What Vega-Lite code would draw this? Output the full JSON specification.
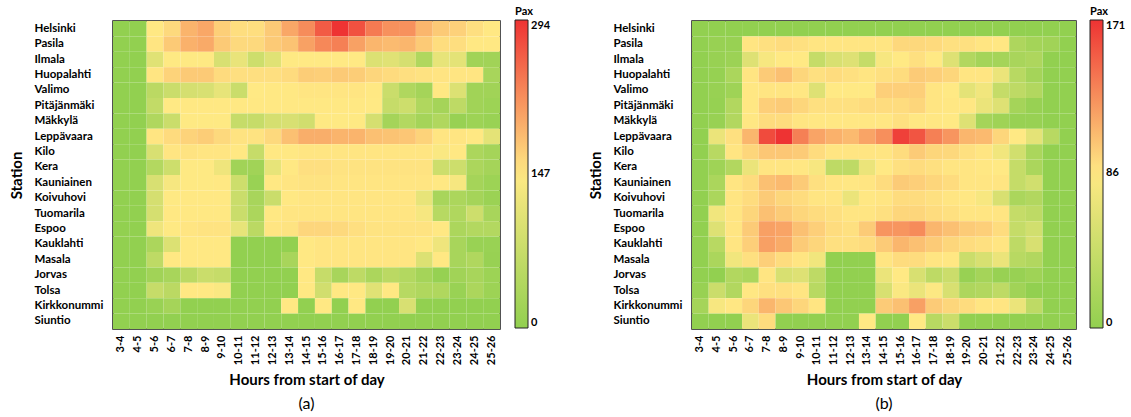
{
"$schema": "https://vega.github.io/schema/vega-lite/v6.json",
"padding": {"left": 8, "top": 5, "right": 5, "bottom": 0},
"config": {
  "font": "Lato",
  "view": {"stroke": "#1a1a1a", "strokeWidth": 1.5},
  "axis": {"labelFontWeight": "bold", "labelColor": "#000", "labelFontSize": 11, "titleFontWeight": "bold", "titleColor": "#000", "titleFontSize": 15, "ticks": false, "domain": false, "grid": false},
  "legend": {"titleFontWeight": "bold", "titleFontSize": 11, "titleColor": "#000", "labelFontWeight": "bold", "labelFontSize": 11, "labelColor": "#000", "gradientStrokeColor": "#222", "gradientStrokeWidth": 1},
  "title": {"fontWeight": "normal", "fontSize": 16, "color": "#000"}
},
"spacing": 35,
"resolve": {"scale": {"color": "independent"}, "legend": {"color": "independent"}},
"datasets": {
"a": [
{"s":"Helsinki","h":"3-4","v":0},{"s":"Helsinki","h":"4-5","v":0},{"s":"Helsinki","h":"5-6","v":148},{"s":"Helsinki","h":"6-7","v":160},{"s":"Helsinki","h":"7-8","v":190},{"s":"Helsinki","h":"8-9","v":200},{"s":"Helsinki","h":"9-10","v":168},{"s":"Helsinki","h":"10-11","v":156},{"s":"Helsinki","h":"11-12","v":156},{"s":"Helsinki","h":"12-13","v":172},{"s":"Helsinki","h":"13-14","v":200},{"s":"Helsinki","h":"14-15","v":222},{"s":"Helsinki","h":"15-16","v":262},{"s":"Helsinki","h":"16-17","v":294},{"s":"Helsinki","h":"17-18","v":270},{"s":"Helsinki","h":"18-19","v":237},{"s":"Helsinki","h":"19-20","v":218},{"s":"Helsinki","h":"20-21","v":218},{"s":"Helsinki","h":"21-22","v":188},{"s":"Helsinki","h":"22-23","v":172},{"s":"Helsinki","h":"23-24","v":166},{"s":"Helsinki","h":"24-25","v":155},{"s":"Helsinki","h":"25-26","v":148},
{"s":"Pasila","h":"3-4","v":0},{"s":"Pasila","h":"4-5","v":0},{"s":"Pasila","h":"5-6","v":150},{"s":"Pasila","h":"6-7","v":172},{"s":"Pasila","h":"7-8","v":192},{"s":"Pasila","h":"8-9","v":198},{"s":"Pasila","h":"9-10","v":172},{"s":"Pasila","h":"10-11","v":160},{"s":"Pasila","h":"11-12","v":160},{"s":"Pasila","h":"12-13","v":172},{"s":"Pasila","h":"13-14","v":178},{"s":"Pasila","h":"14-15","v":205},{"s":"Pasila","h":"15-16","v":225},{"s":"Pasila","h":"16-17","v":232},{"s":"Pasila","h":"17-18","v":205},{"s":"Pasila","h":"18-19","v":188},{"s":"Pasila","h":"19-20","v":184},{"s":"Pasila","h":"20-21","v":188},{"s":"Pasila","h":"21-22","v":172},{"s":"Pasila","h":"22-23","v":157},{"s":"Pasila","h":"23-24","v":156},{"s":"Pasila","h":"24-25","v":148},{"s":"Pasila","h":"25-26","v":148},
{"s":"Ilmala","h":"3-4","v":0},{"s":"Ilmala","h":"4-5","v":0},{"s":"Ilmala","h":"5-6","v":105},{"s":"Ilmala","h":"6-7","v":145},{"s":"Ilmala","h":"7-8","v":145},{"s":"Ilmala","h":"8-9","v":145},{"s":"Ilmala","h":"9-10","v":95},{"s":"Ilmala","h":"10-11","v":118},{"s":"Ilmala","h":"11-12","v":80},{"s":"Ilmala","h":"12-13","v":105},{"s":"Ilmala","h":"13-14","v":145},{"s":"Ilmala","h":"14-15","v":147},{"s":"Ilmala","h":"15-16","v":147},{"s":"Ilmala","h":"16-17","v":147},{"s":"Ilmala","h":"17-18","v":147},{"s":"Ilmala","h":"18-19","v":100},{"s":"Ilmala","h":"19-20","v":105},{"s":"Ilmala","h":"20-21","v":90},{"s":"Ilmala","h":"21-22","v":40},{"s":"Ilmala","h":"22-23","v":115},{"s":"Ilmala","h":"23-24","v":110},{"s":"Ilmala","h":"24-25","v":20},{"s":"Ilmala","h":"25-26","v":20},
{"s":"Huopalahti","h":"3-4","v":0},{"s":"Huopalahti","h":"4-5","v":0},{"s":"Huopalahti","h":"5-6","v":150},{"s":"Huopalahti","h":"6-7","v":165},{"s":"Huopalahti","h":"7-8","v":172},{"s":"Huopalahti","h":"8-9","v":172},{"s":"Huopalahti","h":"9-10","v":158},{"s":"Huopalahti","h":"10-11","v":155},{"s":"Huopalahti","h":"11-12","v":155},{"s":"Huopalahti","h":"12-13","v":155},{"s":"Huopalahti","h":"13-14","v":158},{"s":"Huopalahti","h":"14-15","v":170},{"s":"Huopalahti","h":"15-16","v":168},{"s":"Huopalahti","h":"16-17","v":172},{"s":"Huopalahti","h":"17-18","v":170},{"s":"Huopalahti","h":"18-19","v":162},{"s":"Huopalahti","h":"19-20","v":158},{"s":"Huopalahti","h":"20-21","v":155},{"s":"Huopalahti","h":"21-22","v":153},{"s":"Huopalahti","h":"22-23","v":151},{"s":"Huopalahti","h":"23-24","v":150},{"s":"Huopalahti","h":"24-25","v":150},{"s":"Huopalahti","h":"25-26","v":30},
{"s":"Valimo","h":"3-4","v":0},{"s":"Valimo","h":"4-5","v":0},{"s":"Valimo","h":"5-6","v":55},{"s":"Valimo","h":"6-7","v":75},{"s":"Valimo","h":"7-8","v":90},{"s":"Valimo","h":"8-9","v":95},{"s":"Valimo","h":"9-10","v":115},{"s":"Valimo","h":"10-11","v":75},{"s":"Valimo","h":"11-12","v":147},{"s":"Valimo","h":"12-13","v":148},{"s":"Valimo","h":"13-14","v":148},{"s":"Valimo","h":"14-15","v":150},{"s":"Valimo","h":"15-16","v":150},{"s":"Valimo","h":"16-17","v":150},{"s":"Valimo","h":"17-18","v":150},{"s":"Valimo","h":"18-19","v":148},{"s":"Valimo","h":"19-20","v":75},{"s":"Valimo","h":"20-21","v":40},{"s":"Valimo","h":"21-22","v":25},{"s":"Valimo","h":"22-23","v":148},{"s":"Valimo","h":"23-24","v":100},{"s":"Valimo","h":"24-25","v":20},{"s":"Valimo","h":"25-26","v":20},
{"s":"Pitäjänmäki","h":"3-4","v":0},{"s":"Pitäjänmäki","h":"4-5","v":0},{"s":"Pitäjänmäki","h":"5-6","v":65},{"s":"Pitäjänmäki","h":"6-7","v":147},{"s":"Pitäjänmäki","h":"7-8","v":148},{"s":"Pitäjänmäki","h":"8-9","v":148},{"s":"Pitäjänmäki","h":"9-10","v":148},{"s":"Pitäjänmäki","h":"10-11","v":148},{"s":"Pitäjänmäki","h":"11-12","v":148},{"s":"Pitäjänmäki","h":"12-13","v":148},{"s":"Pitäjänmäki","h":"13-14","v":148},{"s":"Pitäjänmäki","h":"14-15","v":148},{"s":"Pitäjänmäki","h":"15-16","v":148},{"s":"Pitäjänmäki","h":"16-17","v":148},{"s":"Pitäjänmäki","h":"17-18","v":148},{"s":"Pitäjänmäki","h":"18-19","v":147},{"s":"Pitäjänmäki","h":"19-20","v":70},{"s":"Pitäjänmäki","h":"20-21","v":80},{"s":"Pitäjänmäki","h":"21-22","v":40},{"s":"Pitäjänmäki","h":"22-23","v":25},{"s":"Pitäjänmäki","h":"23-24","v":60},{"s":"Pitäjänmäki","h":"24-25","v":20},{"s":"Pitäjänmäki","h":"25-26","v":15},
{"s":"Mäkkylä","h":"3-4","v":0},{"s":"Mäkkylä","h":"4-5","v":0},{"s":"Mäkkylä","h":"5-6","v":40},{"s":"Mäkkylä","h":"6-7","v":75},{"s":"Mäkkylä","h":"7-8","v":145},{"s":"Mäkkylä","h":"8-9","v":145},{"s":"Mäkkylä","h":"9-10","v":145},{"s":"Mäkkylä","h":"10-11","v":70},{"s":"Mäkkylä","h":"11-12","v":70},{"s":"Mäkkylä","h":"12-13","v":90},{"s":"Mäkkylä","h":"13-14","v":95},{"s":"Mäkkylä","h":"14-15","v":85},{"s":"Mäkkylä","h":"15-16","v":145},{"s":"Mäkkylä","h":"16-17","v":145},{"s":"Mäkkylä","h":"17-18","v":145},{"s":"Mäkkylä","h":"18-19","v":90},{"s":"Mäkkylä","h":"19-20","v":25},{"s":"Mäkkylä","h":"20-21","v":45},{"s":"Mäkkylä","h":"21-22","v":25},{"s":"Mäkkylä","h":"22-23","v":40},{"s":"Mäkkylä","h":"23-24","v":8},{"s":"Mäkkylä","h":"24-25","v":15},{"s":"Mäkkylä","h":"25-26","v":10},
{"s":"Leppävaara","h":"3-4","v":0},{"s":"Leppävaara","h":"4-5","v":0},{"s":"Leppävaara","h":"5-6","v":150},{"s":"Leppävaara","h":"6-7","v":158},{"s":"Leppävaara","h":"7-8","v":165},{"s":"Leppävaara","h":"8-9","v":170},{"s":"Leppävaara","h":"9-10","v":160},{"s":"Leppävaara","h":"10-11","v":152},{"s":"Leppävaara","h":"11-12","v":152},{"s":"Leppävaara","h":"12-13","v":160},{"s":"Leppävaara","h":"13-14","v":180},{"s":"Leppävaara","h":"14-15","v":195},{"s":"Leppävaara","h":"15-16","v":195},{"s":"Leppävaara","h":"16-17","v":190},{"s":"Leppävaara","h":"17-18","v":190},{"s":"Leppävaara","h":"18-19","v":180},{"s":"Leppävaara","h":"19-20","v":178},{"s":"Leppävaara","h":"20-21","v":175},{"s":"Leppävaara","h":"21-22","v":165},{"s":"Leppävaara","h":"22-23","v":150},{"s":"Leppävaara","h":"23-24","v":150},{"s":"Leppävaara","h":"24-25","v":148},{"s":"Leppävaara","h":"25-26","v":110},
{"s":"Kilo","h":"3-4","v":0},{"s":"Kilo","h":"4-5","v":0},{"s":"Kilo","h":"5-6","v":95},{"s":"Kilo","h":"6-7","v":150},{"s":"Kilo","h":"7-8","v":152},{"s":"Kilo","h":"8-9","v":150},{"s":"Kilo","h":"9-10","v":150},{"s":"Kilo","h":"10-11","v":148},{"s":"Kilo","h":"11-12","v":70},{"s":"Kilo","h":"12-13","v":148},{"s":"Kilo","h":"13-14","v":148},{"s":"Kilo","h":"14-15","v":150},{"s":"Kilo","h":"15-16","v":150},{"s":"Kilo","h":"16-17","v":150},{"s":"Kilo","h":"17-18","v":150},{"s":"Kilo","h":"18-19","v":150},{"s":"Kilo","h":"19-20","v":150},{"s":"Kilo","h":"20-21","v":150},{"s":"Kilo","h":"21-22","v":150},{"s":"Kilo","h":"22-23","v":140},{"s":"Kilo","h":"23-24","v":148},{"s":"Kilo","h":"24-25","v":35},{"s":"Kilo","h":"25-26","v":25},
{"s":"Kera","h":"3-4","v":0},{"s":"Kera","h":"4-5","v":0},{"s":"Kera","h":"5-6","v":45},{"s":"Kera","h":"6-7","v":80},{"s":"Kera","h":"7-8","v":145},{"s":"Kera","h":"8-9","v":145},{"s":"Kera","h":"9-10","v":125},{"s":"Kera","h":"10-11","v":20},{"s":"Kera","h":"11-12","v":20},{"s":"Kera","h":"12-13","v":115},{"s":"Kera","h":"13-14","v":148},{"s":"Kera","h":"14-15","v":155},{"s":"Kera","h":"15-16","v":155},{"s":"Kera","h":"16-17","v":152},{"s":"Kera","h":"17-18","v":152},{"s":"Kera","h":"18-19","v":152},{"s":"Kera","h":"19-20","v":152},{"s":"Kera","h":"20-21","v":152},{"s":"Kera","h":"21-22","v":152},{"s":"Kera","h":"22-23","v":80},{"s":"Kera","h":"23-24","v":80},{"s":"Kera","h":"24-25","v":35},{"s":"Kera","h":"25-26","v":25},
{"s":"Kauniainen","h":"3-4","v":0},{"s":"Kauniainen","h":"4-5","v":0},{"s":"Kauniainen","h":"5-6","v":95},{"s":"Kauniainen","h":"6-7","v":135},{"s":"Kauniainen","h":"7-8","v":145},{"s":"Kauniainen","h":"8-9","v":145},{"s":"Kauniainen","h":"9-10","v":148},{"s":"Kauniainen","h":"10-11","v":80},{"s":"Kauniainen","h":"11-12","v":10},{"s":"Kauniainen","h":"12-13","v":148},{"s":"Kauniainen","h":"13-14","v":150},{"s":"Kauniainen","h":"14-15","v":152},{"s":"Kauniainen","h":"15-16","v":152},{"s":"Kauniainen","h":"16-17","v":150},{"s":"Kauniainen","h":"17-18","v":150},{"s":"Kauniainen","h":"18-19","v":150},{"s":"Kauniainen","h":"19-20","v":150},{"s":"Kauniainen","h":"20-21","v":150},{"s":"Kauniainen","h":"21-22","v":150},{"s":"Kauniainen","h":"22-23","v":148},{"s":"Kauniainen","h":"23-24","v":135},{"s":"Kauniainen","h":"24-25","v":25},{"s":"Kauniainen","h":"25-26","v":15},
{"s":"Koivuhovi","h":"3-4","v":0},{"s":"Koivuhovi","h":"4-5","v":0},{"s":"Koivuhovi","h":"5-6","v":90},{"s":"Koivuhovi","h":"6-7","v":145},{"s":"Koivuhovi","h":"7-8","v":148},{"s":"Koivuhovi","h":"8-9","v":148},{"s":"Koivuhovi","h":"9-10","v":148},{"s":"Koivuhovi","h":"10-11","v":75},{"s":"Koivuhovi","h":"11-12","v":30},{"s":"Koivuhovi","h":"12-13","v":75},{"s":"Koivuhovi","h":"13-14","v":148},{"s":"Koivuhovi","h":"14-15","v":150},{"s":"Koivuhovi","h":"15-16","v":150},{"s":"Koivuhovi","h":"16-17","v":150},{"s":"Koivuhovi","h":"17-18","v":150},{"s":"Koivuhovi","h":"18-19","v":150},{"s":"Koivuhovi","h":"19-20","v":150},{"s":"Koivuhovi","h":"20-21","v":150},{"s":"Koivuhovi","h":"21-22","v":115},{"s":"Koivuhovi","h":"22-23","v":30},{"s":"Koivuhovi","h":"23-24","v":35},{"s":"Koivuhovi","h":"24-25","v":25},{"s":"Koivuhovi","h":"25-26","v":12},
{"s":"Tuomarila","h":"3-4","v":0},{"s":"Tuomarila","h":"4-5","v":0},{"s":"Tuomarila","h":"5-6","v":90},{"s":"Tuomarila","h":"6-7","v":148},{"s":"Tuomarila","h":"7-8","v":148},{"s":"Tuomarila","h":"8-9","v":148},{"s":"Tuomarila","h":"9-10","v":148},{"s":"Tuomarila","h":"10-11","v":75},{"s":"Tuomarila","h":"11-12","v":35},{"s":"Tuomarila","h":"12-13","v":148},{"s":"Tuomarila","h":"13-14","v":150},{"s":"Tuomarila","h":"14-15","v":150},{"s":"Tuomarila","h":"15-16","v":150},{"s":"Tuomarila","h":"16-17","v":150},{"s":"Tuomarila","h":"17-18","v":150},{"s":"Tuomarila","h":"18-19","v":150},{"s":"Tuomarila","h":"19-20","v":150},{"s":"Tuomarila","h":"20-21","v":150},{"s":"Tuomarila","h":"21-22","v":135},{"s":"Tuomarila","h":"22-23","v":50},{"s":"Tuomarila","h":"23-24","v":40},{"s":"Tuomarila","h":"24-25","v":80},{"s":"Tuomarila","h":"25-26","v":30},
{"s":"Espoo","h":"3-4","v":0},{"s":"Espoo","h":"4-5","v":0},{"s":"Espoo","h":"5-6","v":125},{"s":"Espoo","h":"6-7","v":145},{"s":"Espoo","h":"7-8","v":150},{"s":"Espoo","h":"8-9","v":152},{"s":"Espoo","h":"9-10","v":152},{"s":"Espoo","h":"10-11","v":115},{"s":"Espoo","h":"11-12","v":55},{"s":"Espoo","h":"12-13","v":150},{"s":"Espoo","h":"13-14","v":152},{"s":"Espoo","h":"14-15","v":162},{"s":"Espoo","h":"15-16","v":162},{"s":"Espoo","h":"16-17","v":160},{"s":"Espoo","h":"17-18","v":155},{"s":"Espoo","h":"18-19","v":152},{"s":"Espoo","h":"19-20","v":152},{"s":"Espoo","h":"20-21","v":152},{"s":"Espoo","h":"21-22","v":152},{"s":"Espoo","h":"22-23","v":148},{"s":"Espoo","h":"23-24","v":35},{"s":"Espoo","h":"24-25","v":45},{"s":"Espoo","h":"25-26","v":45},
{"s":"Kauklahti","h":"3-4","v":0},{"s":"Kauklahti","h":"4-5","v":0},{"s":"Kauklahti","h":"5-6","v":35},{"s":"Kauklahti","h":"6-7","v":100},{"s":"Kauklahti","h":"7-8","v":148},{"s":"Kauklahti","h":"8-9","v":148},{"s":"Kauklahti","h":"9-10","v":148},{"s":"Kauklahti","h":"10-11","v":0},{"s":"Kauklahti","h":"11-12","v":0},{"s":"Kauklahti","h":"12-13","v":0},{"s":"Kauklahti","h":"13-14","v":0},{"s":"Kauklahti","h":"14-15","v":148},{"s":"Kauklahti","h":"15-16","v":150},{"s":"Kauklahti","h":"16-17","v":150},{"s":"Kauklahti","h":"17-18","v":150},{"s":"Kauklahti","h":"18-19","v":150},{"s":"Kauklahti","h":"19-20","v":150},{"s":"Kauklahti","h":"20-21","v":150},{"s":"Kauklahti","h":"21-22","v":148},{"s":"Kauklahti","h":"22-23","v":125},{"s":"Kauklahti","h":"23-24","v":30},{"s":"Kauklahti","h":"24-25","v":10},{"s":"Kauklahti","h":"25-26","v":10},
{"s":"Masala","h":"3-4","v":0},{"s":"Masala","h":"4-5","v":0},{"s":"Masala","h":"5-6","v":60},{"s":"Masala","h":"6-7","v":148},{"s":"Masala","h":"7-8","v":148},{"s":"Masala","h":"8-9","v":148},{"s":"Masala","h":"9-10","v":148},{"s":"Masala","h":"10-11","v":0},{"s":"Masala","h":"11-12","v":0},{"s":"Masala","h":"12-13","v":0},{"s":"Masala","h":"13-14","v":30},{"s":"Masala","h":"14-15","v":148},{"s":"Masala","h":"15-16","v":150},{"s":"Masala","h":"16-17","v":150},{"s":"Masala","h":"17-18","v":150},{"s":"Masala","h":"18-19","v":150},{"s":"Masala","h":"19-20","v":150},{"s":"Masala","h":"20-21","v":150},{"s":"Masala","h":"21-22","v":100},{"s":"Masala","h":"22-23","v":148},{"s":"Masala","h":"23-24","v":30},{"s":"Masala","h":"24-25","v":40},{"s":"Masala","h":"25-26","v":8},
{"s":"Jorvas","h":"3-4","v":0},{"s":"Jorvas","h":"4-5","v":0},{"s":"Jorvas","h":"5-6","v":20},{"s":"Jorvas","h":"6-7","v":30},{"s":"Jorvas","h":"7-8","v":55},{"s":"Jorvas","h":"8-9","v":75},{"s":"Jorvas","h":"9-10","v":70},{"s":"Jorvas","h":"10-11","v":0},{"s":"Jorvas","h":"11-12","v":0},{"s":"Jorvas","h":"12-13","v":0},{"s":"Jorvas","h":"13-14","v":0},{"s":"Jorvas","h":"14-15","v":148},{"s":"Jorvas","h":"15-16","v":70},{"s":"Jorvas","h":"16-17","v":30},{"s":"Jorvas","h":"17-18","v":60},{"s":"Jorvas","h":"18-19","v":35},{"s":"Jorvas","h":"19-20","v":55},{"s":"Jorvas","h":"20-21","v":45},{"s":"Jorvas","h":"21-22","v":25},{"s":"Jorvas","h":"22-23","v":5},{"s":"Jorvas","h":"23-24","v":20},{"s":"Jorvas","h":"24-25","v":30},{"s":"Jorvas","h":"25-26","v":15},
{"s":"Tolsa","h":"3-4","v":0},{"s":"Tolsa","h":"4-5","v":0},{"s":"Tolsa","h":"5-6","v":70},{"s":"Tolsa","h":"6-7","v":55},{"s":"Tolsa","h":"7-8","v":148},{"s":"Tolsa","h":"8-9","v":148},{"s":"Tolsa","h":"9-10","v":140},{"s":"Tolsa","h":"10-11","v":0},{"s":"Tolsa","h":"11-12","v":0},{"s":"Tolsa","h":"12-13","v":0},{"s":"Tolsa","h":"13-14","v":0},{"s":"Tolsa","h":"14-15","v":148},{"s":"Tolsa","h":"15-16","v":85},{"s":"Tolsa","h":"16-17","v":148},{"s":"Tolsa","h":"17-18","v":148},{"s":"Tolsa","h":"18-19","v":105},{"s":"Tolsa","h":"19-20","v":148},{"s":"Tolsa","h":"20-21","v":50},{"s":"Tolsa","h":"21-22","v":40},{"s":"Tolsa","h":"22-23","v":40},{"s":"Tolsa","h":"23-24","v":10},{"s":"Tolsa","h":"24-25","v":35},{"s":"Tolsa","h":"25-26","v":15},
{"s":"Kirkkonummi","h":"3-4","v":0},{"s":"Kirkkonummi","h":"4-5","v":0},{"s":"Kirkkonummi","h":"5-6","v":10},{"s":"Kirkkonummi","h":"6-7","v":25},{"s":"Kirkkonummi","h":"7-8","v":0},{"s":"Kirkkonummi","h":"8-9","v":0},{"s":"Kirkkonummi","h":"9-10","v":0},{"s":"Kirkkonummi","h":"10-11","v":0},{"s":"Kirkkonummi","h":"11-12","v":0},{"s":"Kirkkonummi","h":"12-13","v":0},{"s":"Kirkkonummi","h":"13-14","v":148},{"s":"Kirkkonummi","h":"14-15","v":0},{"s":"Kirkkonummi","h":"15-16","v":148},{"s":"Kirkkonummi","h":"16-17","v":0},{"s":"Kirkkonummi","h":"17-18","v":148},{"s":"Kirkkonummi","h":"18-19","v":0},{"s":"Kirkkonummi","h":"19-20","v":0},{"s":"Kirkkonummi","h":"20-21","v":95},{"s":"Kirkkonummi","h":"21-22","v":0},{"s":"Kirkkonummi","h":"22-23","v":0},{"s":"Kirkkonummi","h":"23-24","v":0},{"s":"Kirkkonummi","h":"24-25","v":0},{"s":"Kirkkonummi","h":"25-26","v":0},
{"s":"Siuntio","h":"3-4","v":0},{"s":"Siuntio","h":"4-5","v":0},{"s":"Siuntio","h":"5-6","v":0},{"s":"Siuntio","h":"6-7","v":0},{"s":"Siuntio","h":"7-8","v":0},{"s":"Siuntio","h":"8-9","v":0},{"s":"Siuntio","h":"9-10","v":0},{"s":"Siuntio","h":"10-11","v":0},{"s":"Siuntio","h":"11-12","v":0},{"s":"Siuntio","h":"12-13","v":0},{"s":"Siuntio","h":"13-14","v":0},{"s":"Siuntio","h":"14-15","v":0},{"s":"Siuntio","h":"15-16","v":0},{"s":"Siuntio","h":"16-17","v":0},{"s":"Siuntio","h":"17-18","v":0},{"s":"Siuntio","h":"18-19","v":0},{"s":"Siuntio","h":"19-20","v":0},{"s":"Siuntio","h":"20-21","v":0},{"s":"Siuntio","h":"21-22","v":0},{"s":"Siuntio","h":"22-23","v":0},{"s":"Siuntio","h":"23-24","v":0},{"s":"Siuntio","h":"24-25","v":0},{"s":"Siuntio","h":"25-26","v":0}
],
"b": [
{"s":"Helsinki","h":"3-4","v":0},{"s":"Helsinki","h":"4-5","v":0},{"s":"Helsinki","h":"5-6","v":0},{"s":"Helsinki","h":"6-7","v":0},{"s":"Helsinki","h":"7-8","v":0},{"s":"Helsinki","h":"8-9","v":0},{"s":"Helsinki","h":"9-10","v":0},{"s":"Helsinki","h":"10-11","v":0},{"s":"Helsinki","h":"11-12","v":0},{"s":"Helsinki","h":"12-13","v":0},{"s":"Helsinki","h":"13-14","v":0},{"s":"Helsinki","h":"14-15","v":0},{"s":"Helsinki","h":"15-16","v":0},{"s":"Helsinki","h":"16-17","v":0},{"s":"Helsinki","h":"17-18","v":0},{"s":"Helsinki","h":"18-19","v":0},{"s":"Helsinki","h":"19-20","v":0},{"s":"Helsinki","h":"20-21","v":0},{"s":"Helsinki","h":"21-22","v":0},{"s":"Helsinki","h":"22-23","v":0},{"s":"Helsinki","h":"23-24","v":0},{"s":"Helsinki","h":"24-25","v":0},{"s":"Helsinki","h":"25-26","v":0},
{"s":"Pasila","h":"3-4","v":0},{"s":"Pasila","h":"4-5","v":5},{"s":"Pasila","h":"5-6","v":5},{"s":"Pasila","h":"6-7","v":88},{"s":"Pasila","h":"7-8","v":90},{"s":"Pasila","h":"8-9","v":92},{"s":"Pasila","h":"9-10","v":90},{"s":"Pasila","h":"10-11","v":88},{"s":"Pasila","h":"11-12","v":88},{"s":"Pasila","h":"12-13","v":88},{"s":"Pasila","h":"13-14","v":88},{"s":"Pasila","h":"14-15","v":88},{"s":"Pasila","h":"15-16","v":94},{"s":"Pasila","h":"16-17","v":94},{"s":"Pasila","h":"17-18","v":93},{"s":"Pasila","h":"18-19","v":90},{"s":"Pasila","h":"19-20","v":90},{"s":"Pasila","h":"20-21","v":88},{"s":"Pasila","h":"21-22","v":87},{"s":"Pasila","h":"22-23","v":22},{"s":"Pasila","h":"23-24","v":14},{"s":"Pasila","h":"24-25","v":12},{"s":"Pasila","h":"25-26","v":0},
{"s":"Ilmala","h":"3-4","v":0},{"s":"Ilmala","h":"4-5","v":5},{"s":"Ilmala","h":"5-6","v":8},{"s":"Ilmala","h":"6-7","v":60},{"s":"Ilmala","h":"7-8","v":80},{"s":"Ilmala","h":"8-9","v":86},{"s":"Ilmala","h":"9-10","v":86},{"s":"Ilmala","h":"10-11","v":40},{"s":"Ilmala","h":"11-12","v":55},{"s":"Ilmala","h":"12-13","v":60},{"s":"Ilmala","h":"13-14","v":40},{"s":"Ilmala","h":"14-15","v":80},{"s":"Ilmala","h":"15-16","v":86},{"s":"Ilmala","h":"16-17","v":90},{"s":"Ilmala","h":"17-18","v":86},{"s":"Ilmala","h":"18-19","v":60},{"s":"Ilmala","h":"19-20","v":25},{"s":"Ilmala","h":"20-21","v":15},{"s":"Ilmala","h":"21-22","v":15},{"s":"Ilmala","h":"22-23","v":18},{"s":"Ilmala","h":"23-24","v":22},{"s":"Ilmala","h":"24-25","v":0},{"s":"Ilmala","h":"25-26","v":0},
{"s":"Huopalahti","h":"3-4","v":0},{"s":"Huopalahti","h":"4-5","v":3},{"s":"Huopalahti","h":"5-6","v":20},{"s":"Huopalahti","h":"6-7","v":88},{"s":"Huopalahti","h":"7-8","v":100},{"s":"Huopalahti","h":"8-9","v":105},{"s":"Huopalahti","h":"9-10","v":95},{"s":"Huopalahti","h":"10-11","v":90},{"s":"Huopalahti","h":"11-12","v":92},{"s":"Huopalahti","h":"12-13","v":90},{"s":"Huopalahti","h":"13-14","v":88},{"s":"Huopalahti","h":"14-15","v":90},{"s":"Huopalahti","h":"15-16","v":92},{"s":"Huopalahti","h":"16-17","v":100},{"s":"Huopalahti","h":"17-18","v":98},{"s":"Huopalahti","h":"18-19","v":95},{"s":"Huopalahti","h":"19-20","v":88},{"s":"Huopalahti","h":"20-21","v":88},{"s":"Huopalahti","h":"21-22","v":70},{"s":"Huopalahti","h":"22-23","v":30},{"s":"Huopalahti","h":"23-24","v":15},{"s":"Huopalahti","h":"24-25","v":0},{"s":"Huopalahti","h":"25-26","v":0},
{"s":"Valimo","h":"3-4","v":0},{"s":"Valimo","h":"4-5","v":5},{"s":"Valimo","h":"5-6","v":10},{"s":"Valimo","h":"6-7","v":87},{"s":"Valimo","h":"7-8","v":88},{"s":"Valimo","h":"8-9","v":88},{"s":"Valimo","h":"9-10","v":87},{"s":"Valimo","h":"10-11","v":60},{"s":"Valimo","h":"11-12","v":86},{"s":"Valimo","h":"12-13","v":86},{"s":"Valimo","h":"13-14","v":86},{"s":"Valimo","h":"14-15","v":98},{"s":"Valimo","h":"15-16","v":98},{"s":"Valimo","h":"16-17","v":98},{"s":"Valimo","h":"17-18","v":88},{"s":"Valimo","h":"18-19","v":86},{"s":"Valimo","h":"19-20","v":65},{"s":"Valimo","h":"20-21","v":75},{"s":"Valimo","h":"21-22","v":40},{"s":"Valimo","h":"22-23","v":35},{"s":"Valimo","h":"23-24","v":25},{"s":"Valimo","h":"24-25","v":0},{"s":"Valimo","h":"25-26","v":0},
{"s":"Pitäjänmäki","h":"3-4","v":0},{"s":"Pitäjänmäki","h":"4-5","v":3},{"s":"Pitäjänmäki","h":"5-6","v":25},{"s":"Pitäjänmäki","h":"6-7","v":87},{"s":"Pitäjänmäki","h":"7-8","v":98},{"s":"Pitäjänmäki","h":"8-9","v":100},{"s":"Pitäjänmäki","h":"9-10","v":95},{"s":"Pitäjänmäki","h":"10-11","v":90},{"s":"Pitäjänmäki","h":"11-12","v":90},{"s":"Pitäjänmäki","h":"12-13","v":90},{"s":"Pitäjänmäki","h":"13-14","v":92},{"s":"Pitäjänmäki","h":"14-15","v":92},{"s":"Pitäjänmäki","h":"15-16","v":92},{"s":"Pitäjänmäki","h":"16-17","v":95},{"s":"Pitäjänmäki","h":"17-18","v":88},{"s":"Pitäjänmäki","h":"18-19","v":87},{"s":"Pitäjänmäki","h":"19-20","v":87},{"s":"Pitäjänmäki","h":"20-21","v":70},{"s":"Pitäjänmäki","h":"21-22","v":60},{"s":"Pitäjänmäki","h":"22-23","v":15},{"s":"Pitäjänmäki","h":"23-24","v":5},{"s":"Pitäjänmäki","h":"24-25","v":0},{"s":"Pitäjänmäki","h":"25-26","v":0},
{"s":"Mäkkylä","h":"3-4","v":0},{"s":"Mäkkylä","h":"4-5","v":5},{"s":"Mäkkylä","h":"5-6","v":25},{"s":"Mäkkylä","h":"6-7","v":87},{"s":"Mäkkylä","h":"7-8","v":92},{"s":"Mäkkylä","h":"8-9","v":92},{"s":"Mäkkylä","h":"9-10","v":88},{"s":"Mäkkylä","h":"10-11","v":87},{"s":"Mäkkylä","h":"11-12","v":87},{"s":"Mäkkylä","h":"12-13","v":87},{"s":"Mäkkylä","h":"13-14","v":87},{"s":"Mäkkylä","h":"14-15","v":87},{"s":"Mäkkylä","h":"15-16","v":90},{"s":"Mäkkylä","h":"16-17","v":87},{"s":"Mäkkylä","h":"17-18","v":87},{"s":"Mäkkylä","h":"18-19","v":86},{"s":"Mäkkylä","h":"19-20","v":60},{"s":"Mäkkylä","h":"20-21","v":15},{"s":"Mäkkylä","h":"21-22","v":10},{"s":"Mäkkylä","h":"22-23","v":5},{"s":"Mäkkylä","h":"23-24","v":5},{"s":"Mäkkylä","h":"24-25","v":0},{"s":"Mäkkylä","h":"25-26","v":0},
{"s":"Leppävaara","h":"3-4","v":0},{"s":"Leppävaara","h":"4-5","v":70},{"s":"Leppävaara","h":"5-6","v":90},{"s":"Leppävaara","h":"6-7","v":110},{"s":"Leppävaara","h":"7-8","v":160},{"s":"Leppävaara","h":"8-9","v":171},{"s":"Leppävaara","h":"9-10","v":135},{"s":"Leppävaara","h":"10-11","v":118},{"s":"Leppävaara","h":"11-12","v":112},{"s":"Leppävaara","h":"12-13","v":108},{"s":"Leppävaara","h":"13-14","v":118},{"s":"Leppävaara","h":"14-15","v":128},{"s":"Leppävaara","h":"15-16","v":165},{"s":"Leppävaara","h":"16-17","v":155},{"s":"Leppävaara","h":"17-18","v":135},{"s":"Leppävaara","h":"18-19","v":125},{"s":"Leppävaara","h":"19-20","v":110},{"s":"Leppävaara","h":"20-21","v":108},{"s":"Leppävaara","h":"21-22","v":95},{"s":"Leppävaara","h":"22-23","v":86},{"s":"Leppävaara","h":"23-24","v":65},{"s":"Leppävaara","h":"24-25","v":30},{"s":"Leppävaara","h":"25-26","v":0},
{"s":"Kilo","h":"3-4","v":0},{"s":"Kilo","h":"4-5","v":30},{"s":"Kilo","h":"5-6","v":88},{"s":"Kilo","h":"6-7","v":95},{"s":"Kilo","h":"7-8","v":102},{"s":"Kilo","h":"8-9","v":102},{"s":"Kilo","h":"9-10","v":100},{"s":"Kilo","h":"10-11","v":92},{"s":"Kilo","h":"11-12","v":88},{"s":"Kilo","h":"12-13","v":88},{"s":"Kilo","h":"13-14","v":88},{"s":"Kilo","h":"14-15","v":88},{"s":"Kilo","h":"15-16","v":92},{"s":"Kilo","h":"16-17","v":100},{"s":"Kilo","h":"17-18","v":95},{"s":"Kilo","h":"18-19","v":94},{"s":"Kilo","h":"19-20","v":90},{"s":"Kilo","h":"20-21","v":88},{"s":"Kilo","h":"21-22","v":75},{"s":"Kilo","h":"22-23","v":50},{"s":"Kilo","h":"23-24","v":20},{"s":"Kilo","h":"24-25","v":0},{"s":"Kilo","h":"25-26","v":0},
{"s":"Kera","h":"3-4","v":0},{"s":"Kera","h":"4-5","v":10},{"s":"Kera","h":"5-6","v":25},{"s":"Kera","h":"6-7","v":70},{"s":"Kera","h":"7-8","v":88},{"s":"Kera","h":"8-9","v":88},{"s":"Kera","h":"9-10","v":87},{"s":"Kera","h":"10-11","v":80},{"s":"Kera","h":"11-12","v":35},{"s":"Kera","h":"12-13","v":35},{"s":"Kera","h":"13-14","v":70},{"s":"Kera","h":"14-15","v":86},{"s":"Kera","h":"15-16","v":90},{"s":"Kera","h":"16-17","v":92},{"s":"Kera","h":"17-18","v":90},{"s":"Kera","h":"18-19","v":88},{"s":"Kera","h":"19-20","v":88},{"s":"Kera","h":"20-21","v":87},{"s":"Kera","h":"21-22","v":86},{"s":"Kera","h":"22-23","v":40},{"s":"Kera","h":"23-24","v":20},{"s":"Kera","h":"24-25","v":0},{"s":"Kera","h":"25-26","v":0},
{"s":"Kauniainen","h":"3-4","v":0},{"s":"Kauniainen","h":"4-5","v":20},{"s":"Kauniainen","h":"5-6","v":88},{"s":"Kauniainen","h":"6-7","v":92},{"s":"Kauniainen","h":"7-8","v":105},{"s":"Kauniainen","h":"8-9","v":108},{"s":"Kauniainen","h":"9-10","v":100},{"s":"Kauniainen","h":"10-11","v":90},{"s":"Kauniainen","h":"11-12","v":88},{"s":"Kauniainen","h":"12-13","v":87},{"s":"Kauniainen","h":"13-14","v":88},{"s":"Kauniainen","h":"14-15","v":92},{"s":"Kauniainen","h":"15-16","v":100},{"s":"Kauniainen","h":"16-17","v":98},{"s":"Kauniainen","h":"17-18","v":95},{"s":"Kauniainen","h":"18-19","v":92},{"s":"Kauniainen","h":"19-20","v":88},{"s":"Kauniainen","h":"20-21","v":88},{"s":"Kauniainen","h":"21-22","v":88},{"s":"Kauniainen","h":"22-23","v":40},{"s":"Kauniainen","h":"23-24","v":50},{"s":"Kauniainen","h":"24-25","v":0},{"s":"Kauniainen","h":"25-26","v":0},
{"s":"Koivuhovi","h":"3-4","v":0},{"s":"Koivuhovi","h":"4-5","v":20},{"s":"Koivuhovi","h":"5-6","v":88},{"s":"Koivuhovi","h":"6-7","v":92},{"s":"Koivuhovi","h":"7-8","v":100},{"s":"Koivuhovi","h":"8-9","v":95},{"s":"Koivuhovi","h":"9-10","v":92},{"s":"Koivuhovi","h":"10-11","v":88},{"s":"Koivuhovi","h":"11-12","v":88},{"s":"Koivuhovi","h":"12-13","v":70},{"s":"Koivuhovi","h":"13-14","v":87},{"s":"Koivuhovi","h":"14-15","v":88},{"s":"Koivuhovi","h":"15-16","v":92},{"s":"Koivuhovi","h":"16-17","v":92},{"s":"Koivuhovi","h":"17-18","v":90},{"s":"Koivuhovi","h":"18-19","v":88},{"s":"Koivuhovi","h":"19-20","v":87},{"s":"Koivuhovi","h":"20-21","v":80},{"s":"Koivuhovi","h":"21-22","v":55},{"s":"Koivuhovi","h":"22-23","v":20},{"s":"Koivuhovi","h":"23-24","v":25},{"s":"Koivuhovi","h":"24-25","v":0},{"s":"Koivuhovi","h":"25-26","v":0},
{"s":"Tuomarila","h":"3-4","v":0},{"s":"Tuomarila","h":"4-5","v":75},{"s":"Tuomarila","h":"5-6","v":88},{"s":"Tuomarila","h":"6-7","v":95},{"s":"Tuomarila","h":"7-8","v":105},{"s":"Tuomarila","h":"8-9","v":100},{"s":"Tuomarila","h":"9-10","v":95},{"s":"Tuomarila","h":"10-11","v":92},{"s":"Tuomarila","h":"11-12","v":90},{"s":"Tuomarila","h":"12-13","v":88},{"s":"Tuomarila","h":"13-14","v":88},{"s":"Tuomarila","h":"14-15","v":90},{"s":"Tuomarila","h":"15-16","v":95},{"s":"Tuomarila","h":"16-17","v":95},{"s":"Tuomarila","h":"17-18","v":92},{"s":"Tuomarila","h":"18-19","v":90},{"s":"Tuomarila","h":"19-20","v":88},{"s":"Tuomarila","h":"20-21","v":88},{"s":"Tuomarila","h":"21-22","v":88},{"s":"Tuomarila","h":"22-23","v":40},{"s":"Tuomarila","h":"23-24","v":35},{"s":"Tuomarila","h":"24-25","v":0},{"s":"Tuomarila","h":"25-26","v":0},
{"s":"Espoo","h":"3-4","v":0},{"s":"Espoo","h":"4-5","v":60},{"s":"Espoo","h":"5-6","v":88},{"s":"Espoo","h":"6-7","v":100},{"s":"Espoo","h":"7-8","v":120},{"s":"Espoo","h":"8-9","v":118},{"s":"Espoo","h":"9-10","v":105},{"s":"Espoo","h":"10-11","v":98},{"s":"Espoo","h":"11-12","v":92},{"s":"Espoo","h":"12-13","v":90},{"s":"Espoo","h":"13-14","v":100},{"s":"Espoo","h":"14-15","v":125},{"s":"Espoo","h":"15-16","v":125},{"s":"Espoo","h":"16-17","v":130},{"s":"Espoo","h":"17-18","v":110},{"s":"Espoo","h":"18-19","v":105},{"s":"Espoo","h":"19-20","v":100},{"s":"Espoo","h":"20-21","v":98},{"s":"Espoo","h":"21-22","v":92},{"s":"Espoo","h":"22-23","v":40},{"s":"Espoo","h":"23-24","v":50},{"s":"Espoo","h":"24-25","v":0},{"s":"Espoo","h":"25-26","v":0},
{"s":"Kauklahti","h":"3-4","v":0},{"s":"Kauklahti","h":"4-5","v":30},{"s":"Kauklahti","h":"5-6","v":88},{"s":"Kauklahti","h":"6-7","v":98},{"s":"Kauklahti","h":"7-8","v":120},{"s":"Kauklahti","h":"8-9","v":115},{"s":"Kauklahti","h":"9-10","v":100},{"s":"Kauklahti","h":"10-11","v":95},{"s":"Kauklahti","h":"11-12","v":90},{"s":"Kauklahti","h":"12-13","v":90},{"s":"Kauklahti","h":"13-14","v":92},{"s":"Kauklahti","h":"14-15","v":100},{"s":"Kauklahti","h":"15-16","v":110},{"s":"Kauklahti","h":"16-17","v":105},{"s":"Kauklahti","h":"17-18","v":100},{"s":"Kauklahti","h":"18-19","v":95},{"s":"Kauklahti","h":"19-20","v":92},{"s":"Kauklahti","h":"20-21","v":90},{"s":"Kauklahti","h":"21-22","v":88},{"s":"Kauklahti","h":"22-23","v":35},{"s":"Kauklahti","h":"23-24","v":55},{"s":"Kauklahti","h":"24-25","v":0},{"s":"Kauklahti","h":"25-26","v":0},
{"s":"Masala","h":"3-4","v":0},{"s":"Masala","h":"4-5","v":20},{"s":"Masala","h":"5-6","v":75},{"s":"Masala","h":"6-7","v":90},{"s":"Masala","h":"7-8","v":98},{"s":"Masala","h":"8-9","v":92},{"s":"Masala","h":"9-10","v":88},{"s":"Masala","h":"10-11","v":75},{"s":"Masala","h":"11-12","v":0},{"s":"Masala","h":"12-13","v":0},{"s":"Masala","h":"13-14","v":0},{"s":"Masala","h":"14-15","v":88},{"s":"Masala","h":"15-16","v":92},{"s":"Masala","h":"16-17","v":92},{"s":"Masala","h":"17-18","v":88},{"s":"Masala","h":"18-19","v":87},{"s":"Masala","h":"19-20","v":45},{"s":"Masala","h":"20-21","v":55},{"s":"Masala","h":"21-22","v":70},{"s":"Masala","h":"22-23","v":30},{"s":"Masala","h":"23-24","v":25},{"s":"Masala","h":"24-25","v":0},{"s":"Masala","h":"25-26","v":0},
{"s":"Jorvas","h":"3-4","v":0},{"s":"Jorvas","h":"4-5","v":0},{"s":"Jorvas","h":"5-6","v":25},{"s":"Jorvas","h":"6-7","v":20},{"s":"Jorvas","h":"7-8","v":88},{"s":"Jorvas","h":"8-9","v":55},{"s":"Jorvas","h":"9-10","v":60},{"s":"Jorvas","h":"10-11","v":35},{"s":"Jorvas","h":"11-12","v":0},{"s":"Jorvas","h":"12-13","v":0},{"s":"Jorvas","h":"13-14","v":0},{"s":"Jorvas","h":"14-15","v":70},{"s":"Jorvas","h":"15-16","v":86},{"s":"Jorvas","h":"16-17","v":55},{"s":"Jorvas","h":"17-18","v":35},{"s":"Jorvas","h":"18-19","v":45},{"s":"Jorvas","h":"19-20","v":5},{"s":"Jorvas","h":"20-21","v":15},{"s":"Jorvas","h":"21-22","v":5},{"s":"Jorvas","h":"22-23","v":5},{"s":"Jorvas","h":"23-24","v":10},{"s":"Jorvas","h":"24-25","v":0},{"s":"Jorvas","h":"25-26","v":0},
{"s":"Tolsa","h":"3-4","v":5},{"s":"Tolsa","h":"4-5","v":45},{"s":"Tolsa","h":"5-6","v":25},{"s":"Tolsa","h":"6-7","v":87},{"s":"Tolsa","h":"7-8","v":90},{"s":"Tolsa","h":"8-9","v":90},{"s":"Tolsa","h":"9-10","v":88},{"s":"Tolsa","h":"10-11","v":30},{"s":"Tolsa","h":"11-12","v":0},{"s":"Tolsa","h":"12-13","v":0},{"s":"Tolsa","h":"13-14","v":0},{"s":"Tolsa","h":"14-15","v":55},{"s":"Tolsa","h":"15-16","v":82},{"s":"Tolsa","h":"16-17","v":70},{"s":"Tolsa","h":"17-18","v":84},{"s":"Tolsa","h":"18-19","v":55},{"s":"Tolsa","h":"19-20","v":22},{"s":"Tolsa","h":"20-21","v":25},{"s":"Tolsa","h":"21-22","v":35},{"s":"Tolsa","h":"22-23","v":12},{"s":"Tolsa","h":"23-24","v":0},{"s":"Tolsa","h":"24-25","v":0},{"s":"Tolsa","h":"25-26","v":0},
{"s":"Kirkkonummi","h":"3-4","v":15},{"s":"Kirkkonummi","h":"4-5","v":80},{"s":"Kirkkonummi","h":"5-6","v":87},{"s":"Kirkkonummi","h":"6-7","v":95},{"s":"Kirkkonummi","h":"7-8","v":110},{"s":"Kirkkonummi","h":"8-9","v":102},{"s":"Kirkkonummi","h":"9-10","v":95},{"s":"Kirkkonummi","h":"10-11","v":88},{"s":"Kirkkonummi","h":"11-12","v":0},{"s":"Kirkkonummi","h":"12-13","v":0},{"s":"Kirkkonummi","h":"13-14","v":0},{"s":"Kirkkonummi","h":"14-15","v":100},{"s":"Kirkkonummi","h":"15-16","v":105},{"s":"Kirkkonummi","h":"16-17","v":120},{"s":"Kirkkonummi","h":"17-18","v":100},{"s":"Kirkkonummi","h":"18-19","v":95},{"s":"Kirkkonummi","h":"19-20","v":92},{"s":"Kirkkonummi","h":"20-21","v":88},{"s":"Kirkkonummi","h":"21-22","v":88},{"s":"Kirkkonummi","h":"22-23","v":70},{"s":"Kirkkonummi","h":"23-24","v":35},{"s":"Kirkkonummi","h":"24-25","v":0},{"s":"Kirkkonummi","h":"25-26","v":0},
{"s":"Siuntio","h":"3-4","v":0},{"s":"Siuntio","h":"4-5","v":0},{"s":"Siuntio","h":"5-6","v":0},{"s":"Siuntio","h":"6-7","v":70},{"s":"Siuntio","h":"7-8","v":92},{"s":"Siuntio","h":"8-9","v":0},{"s":"Siuntio","h":"9-10","v":0},{"s":"Siuntio","h":"10-11","v":0},{"s":"Siuntio","h":"11-12","v":0},{"s":"Siuntio","h":"12-13","v":0},{"s":"Siuntio","h":"13-14","v":86},{"s":"Siuntio","h":"14-15","v":0},{"s":"Siuntio","h":"15-16","v":0},{"s":"Siuntio","h":"16-17","v":86},{"s":"Siuntio","h":"17-18","v":30},{"s":"Siuntio","h":"18-19","v":45},{"s":"Siuntio","h":"19-20","v":0},{"s":"Siuntio","h":"20-21","v":0},{"s":"Siuntio","h":"21-22","v":0},{"s":"Siuntio","h":"22-23","v":0},{"s":"Siuntio","h":"23-24","v":0},{"s":"Siuntio","h":"24-25","v":0},{"s":"Siuntio","h":"25-26","v":0}
]
},
"hconcat": [
{
  "width": 387, "height": 308,
  "data": {"name": "a"},
  "title": {"text": "(a)", "orient": "bottom", "anchor": "middle", "offset": 8},
  "mark": {"type": "rect"},
  "encoding": {
    "x": {"field": "h", "type": "ordinal", "sort": null, "axis": {"title": "Hours from start of day", "labelAngle": -90, "labelPadding": 6, "titlePadding": 8}},
    "y": {"field": "s", "type": "ordinal", "sort": null, "axis": {"title": "Station", "labelAlign": "left", "labelPadding": 79, "titlePadding": 10, "labelFontSize": 11.5}},
    "color": {"field": "v", "type": "quantitative",
      "scale": {"domain": [0, 147, 294], "range": ["#92d050", "#ffe984", "#ee3333"], "interpolate": "rgb"},
      "legend": {"title": "Pax", "values": [0, 147, 294], "orient": "none", "legendX": 402, "legendY": -15, "gradientLength": 308, "gradientThickness": 13, "labelOffset": 3, "titlePadding": 3}}
  }
},
{
  "width": 384, "height": 308,
  "data": {"name": "b"},
  "title": {"text": "(b)", "orient": "bottom", "anchor": "middle", "offset": 8},
  "mark": {"type": "rect"},
  "encoding": {
    "x": {"field": "h", "type": "ordinal", "sort": null, "axis": {"title": "Hours from start of day", "labelAngle": -90, "labelPadding": 6, "titlePadding": 8}},
    "y": {"field": "s", "type": "ordinal", "sort": null, "axis": {"title": "Station", "labelAlign": "left", "labelPadding": 79, "titlePadding": 10, "labelFontSize": 11.5}},
    "color": {"field": "v", "type": "quantitative",
      "scale": {"domain": [0, 86, 171], "range": ["#92d050", "#ffe984", "#ee3333"], "interpolate": "rgb"},
      "legend": {"title": "Pax", "values": [0, 86, 171], "orient": "none", "legendX": 398, "legendY": -15, "gradientLength": 308, "gradientThickness": 13, "labelOffset": 3, "titlePadding": 3}}
  }
}
]
}
